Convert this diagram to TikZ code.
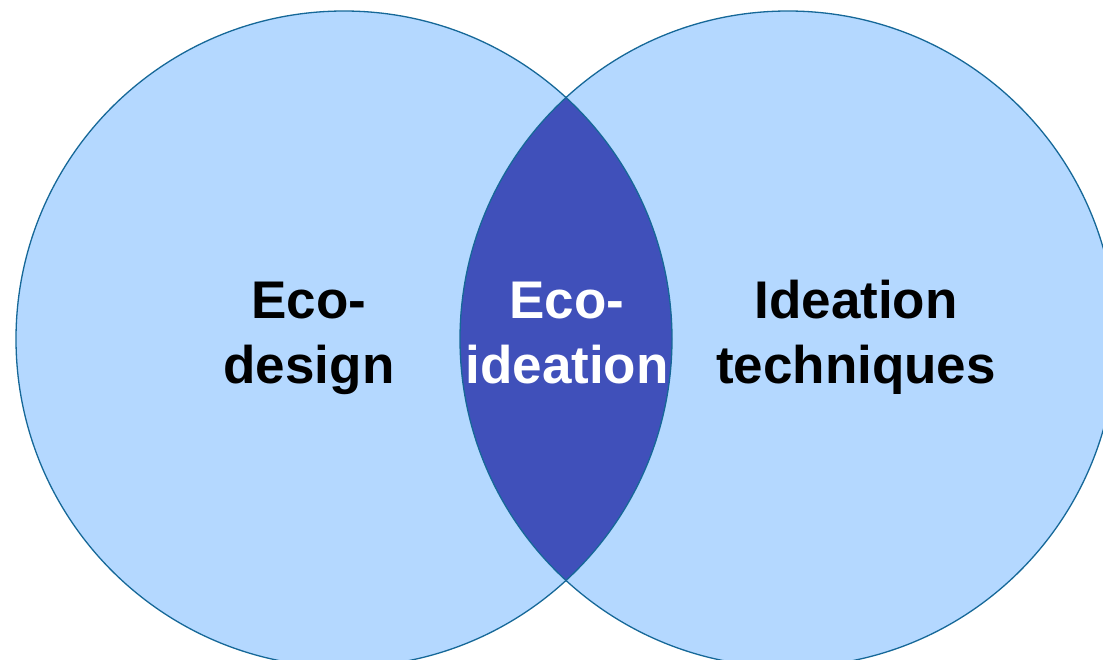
\documentclass[tikz,border=0pt]{standalone}
\usepackage{fontspec}
\setmainfont{Liberation Sans}
\definecolor{lightfill}{RGB}{180,216,255}
\definecolor{lensfill}{RGB}{64,80,186}
\definecolor{edgeblue}{RGB}{22,104,152}
\begin{document}
\begin{tikzpicture}[x=1pt,y=-1pt,
  lbl/.style={font=\bfseries\fontsize{53}{65}\selectfont, align=center, inner sep=0pt, anchor=base},
  ring/.style={draw=edgeblue, line width=1.3pt}]
\useasboundingbox (0,0) rectangle (1103,659);
\coordinate (cl) at (344,339);
\coordinate (cr) at (788,339);
\fill[lightfill] (cl) circle[radius=328];
\fill[lightfill] (cr) circle[radius=328];
\begin{scope}
  \clip (cl) circle[radius=328];
  \fill[lensfill] (cr) circle[radius=328];
\end{scope}
\draw[ring] (cl) circle[radius=328];
\draw[ring] (cr) circle[radius=328];
\node[lbl] (ecodesign) at (309,383) {Eco-\\design};
\node[lbl, text=white] (ecoideation) at (567,383) {Eco-\\ideation};
\node[lbl] (ideation) at (856,383) {Ideation\\techniques};
\end{tikzpicture}
\end{document}
